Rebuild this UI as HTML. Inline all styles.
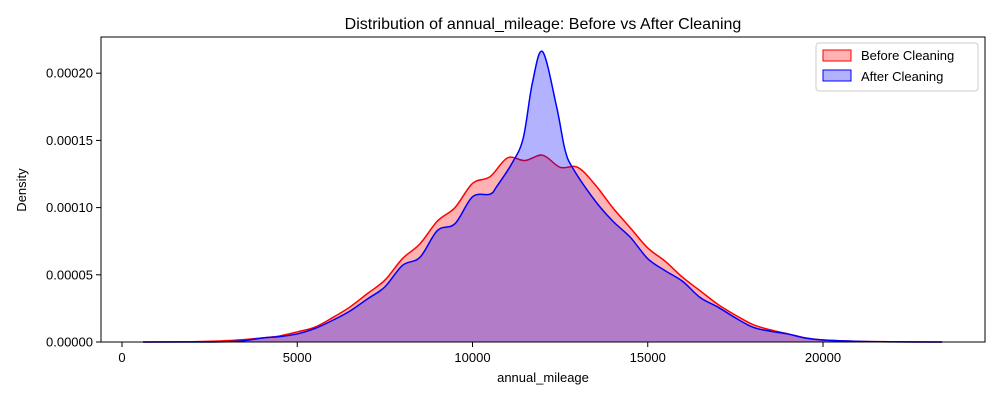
<!DOCTYPE html>
<html><head><meta charset="utf-8"><style>
body{margin:0;background:#fff;font-family:"Liberation Sans","DejaVu Sans",sans-serif;}
svg text{font-family:"Liberation Sans","DejaVu Sans",sans-serif;}
</style></head><body>
<svg id="chart" width="1000" height="400">
<rect width="1000" height="400" fill="#fff"/>
<g id="plot"></g>
<rect x="101" y="37" width="884" height="305" fill="none" stroke="#000" stroke-width="1"/>
<g id="axes"></g>
<text x="543" y="29" font-size="16" text-anchor="middle">Distribution of annual_mileage: Before vs After Cleaning</text>
<text x="543" y="382" font-size="13" text-anchor="middle">annual_mileage</text>
<text x="26" y="190" font-size="13" text-anchor="middle" transform="rotate(-90 26 190)">Density</text>
<g>
<rect x="816" y="43" width="162" height="48" rx="3" fill="#fff" stroke="#ccc"/>
<g><rect x="823" y="50" width="28" height="11" fill="rgba(255,0,0,0.3)" stroke="red"/>
<text x="861" y="60" font-size="13">Before Cleaning</text></g>
<g><rect x="823" y="70" width="28" height="11" fill="rgba(0,0,255,0.3)" stroke="blue"/>
<text x="861" y="81" font-size="13">After Cleaning</text></g>
</g>
</svg>
<script>
const beforeX=[600,2000,3000,4000,4500,5000,5500,6000,6500,7000,7500,8000,8500,9000,9500,10000,10500,11000,11500,12000,12500,13000,13500,14000,14500,15000,15500,16000,16500,17000,17500,18000,18500,19000,19500,20000,21000,22000,23400];
const beforeY=[0,0.02,0.1,0.3,0.45,0.75,1.1,1.8,2.6,3.6,4.6,6.2,7.3,9.0,10.0,11.8,12.3,13.7,13.5,13.9,13.0,13.0,11.7,10.0,8.5,7.0,6.0,4.8,3.8,2.8,2.0,1.3,0.9,0.6,0.3,0.15,0.05,0.02,0];
const afterX=[600,2000,3000,3500,4000,4500,5000,5500,6000,6500,7000,7500,8000,8500,9000,9500,10000,10500,10700,11150,11450,11710,12000,12400,12640,12870,13500,14000,14500,15000,15500,16000,16500,17000,17500,18000,18500,19000,19500,20000,21000,22000,23400];
const afterY=[0,0,0.02,0.1,0.3,0.4,0.6,1.0,1.6,2.3,3.2,4.1,5.7,6.3,8.3,8.8,10.8,11.0,11.6,13.4,15.2,19.3,21.6,17.5,14.3,12.9,10.5,9.0,7.8,6.2,5.3,4.5,3.3,2.6,1.8,1.1,0.8,0.6,0.3,0.15,0.05,0.01,0];
const xTicks=[0,5000,10000,15000,20000];
const yTicks=[0,0.00005,0.0001,0.00015,0.0002];
const yLabels=["0.00000","0.00005","0.00010","0.00015","0.00020"];
const sx=v=>122+v*0.03505;
const sy=d=>342-d*1344000;
const NS="http://www.w3.org/2000/svg";
function pathFor(xs,ys){
  const p=xs.map((x,i)=>[sx(x),sy(ys[i]*1e-5)]);
  let d=`M${p[0][0]},${p[0][1]}`;
  for(let i=0;i<p.length-1;i++){
    const p0=p[Math.max(0,i-1)],p1=p[i],p2=p[i+1],p3=p[Math.min(p.length-1,i+2)];
    const c1=[p1[0]+(p2[0]-p0[0])/6,p1[1]+(p2[1]-p0[1])/6];
    const c2=[p2[0]-(p3[0]-p1[0])/6,p2[1]-(p3[1]-p1[1])/6];
    d+=`C${c1[0]},${c1[1]} ${c2[0]},${c2[1]} ${p2[0]},${p2[1]}`;
  }
  return d;
}
const plot=document.getElementById('plot');
function series(xs,ys,col,fill,name){
  const line=pathFor(xs,ys);
  const a=document.createElementNS(NS,'path');
  a.setAttribute('d',line+`L${sx(xs[xs.length-1])},342L${sx(xs[0])},342Z`);
  a.setAttribute('fill',fill);
  
  
  plot.appendChild(a);
  const l=document.createElementNS(NS,'path');
  l.setAttribute('d',line);l.setAttribute('fill','none');l.setAttribute('stroke',col);l.setAttribute('stroke-width','1.5');
  
  
  plot.appendChild(l);
}
series(beforeX,beforeY,'red','rgba(255,0,0,0.3)','before-cleaning');
series(afterX,afterY,'blue','rgba(0,0,255,0.3)','after-cleaning');
const axes=document.getElementById('axes');
xTicks.forEach(t=>{
  const x=sx(t);
  const l=document.createElementNS(NS,'line');
  l.setAttribute('x1',x);l.setAttribute('x2',x);l.setAttribute('y1',342);l.setAttribute('y2',347);l.setAttribute('stroke','#000');
  
  
  axes.appendChild(l);
  const tx=document.createElementNS(NS,'text');
  tx.setAttribute('x',x);tx.setAttribute('y',362);tx.setAttribute('font-size','13');tx.setAttribute('text-anchor','middle');
  tx.textContent=t;
  
  
  axes.appendChild(tx);
});
yTicks.forEach((t,i)=>{
  const y=sy(t);
  const l=document.createElementNS(NS,'line');
  l.setAttribute('x1',96);l.setAttribute('x2',101);l.setAttribute('y1',y);l.setAttribute('y2',y);l.setAttribute('stroke','#000');
  
  
  axes.appendChild(l);
  const tx=document.createElementNS(NS,'text');
  tx.setAttribute('x',93);tx.setAttribute('y',y+4.5);tx.setAttribute('font-size','13');tx.setAttribute('text-anchor','end');
  tx.textContent=yLabels[i];
  
  
  axes.appendChild(tx);
});
</script>
</body></html>
